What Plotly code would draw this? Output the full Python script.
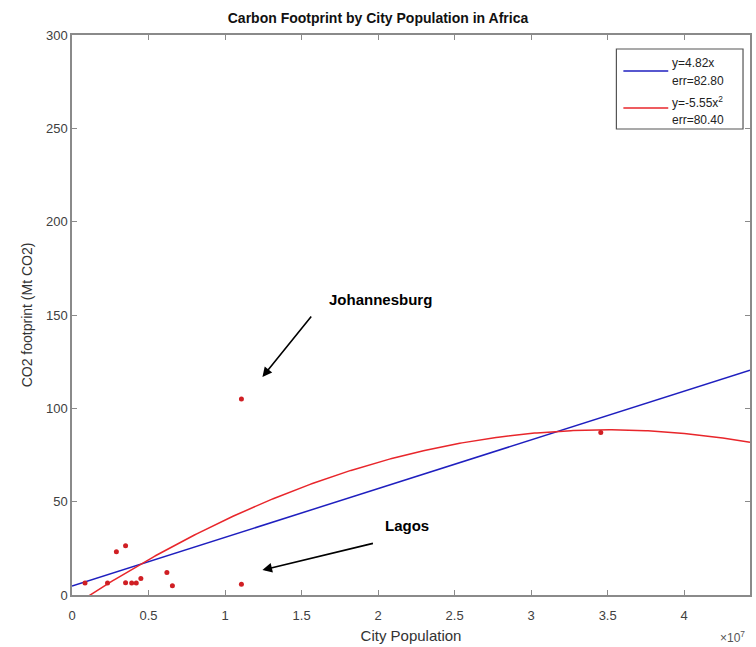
import numpy as np
import plotly.graph_objects as go

# City population and CO2 footprint (Mt CO2) for African cities
population = [0.085e7, 0.232e7, 0.29e7, 0.35e7, 0.35e7, 0.39e7, 0.42e7,
              0.45e7, 0.62e7, 0.656e7, 1.107e7, 1.107e7, 3.455e7]
footprint = [6.4, 6.4, 23.2, 26.4, 6.6, 6.4, 6.4, 8.9, 12.0, 5.0, 5.7, 105.0, 87.1]

# Fitted models (x in units of 1e7 people)
linear_coef = [4.8, 26.1]            # intercept, slope
quad_vertex = [3.5, 88.5, -7.73]     # x at peak, peak value, curvature
legend_labels = [["y=4.82x", "err=82.80"], ["y=-5.55x<sup>2</sup>", "err=80.40"]]
fit_colors = ["#1f1fbf", "#e8262b"]

x_ticks = [0, 0.5, 1, 1.5, 2, 2.5, 3, 3.5, 4]
y_ticks = [0, 50, 100, 150, 200, 250, 300]
x_max = 4.43e7

FONT = "Liberation Sans, Arial, sans-serif"

xs = np.linspace(0, x_max, 300)
u = xs / 1e7
lin = linear_coef[0] + linear_coef[1] * u
quad = quad_vertex[1] + quad_vertex[2] * (u - quad_vertex[0]) ** 2

fig = go.Figure()
fig.add_trace(go.Scatter(x=xs, y=lin, mode="lines", showlegend=False,
                         line=dict(color=fit_colors[0], width=1.5)))
fig.add_trace(go.Scatter(x=xs, y=quad, mode="lines", showlegend=False,
                         line=dict(color=fit_colors[1], width=1.5)))
fig.add_trace(go.Scatter(x=population, y=footprint, mode="markers", showlegend=False,
                         marker=dict(color="#d01f24", size=5)))

axis_color = "#8a8a8a"
tick_font = dict(family=FONT, size=13, color="#404040")

fig.update_xaxes(range=[0, x_max], tickvals=[t * 1e7 for t in x_ticks],
                 ticktext=[f"{t:g}" for t in x_ticks],
                 showgrid=False, zeroline=False, showline=True, linecolor=axis_color,
                 linewidth=1.5, mirror="ticks", ticks="inside", ticklen=5,
                 tickcolor=axis_color, tickwidth=1.2, tickfont=tick_font,
                 ticklabelstandoff=8,
                 title=dict(text="City Population", font=dict(size=15, color="#333333"),
                            standoff=8))
fig.update_yaxes(range=[0, 300], tickvals=y_ticks,
                 showgrid=False, zeroline=False, showline=True, linecolor=axis_color,
                 linewidth=1.5, mirror="ticks", ticks="inside", ticklen=5,
                 tickcolor=axis_color, tickwidth=1.2, tickfont=tick_font,
                 title=dict(text="CO2 footprint (Mt CO2)", font=dict(size=14, color="#333333"),
                            standoff=10))

# plot area: 72..752 px horizontally, 35..595 px vertically
def px(xp):
    return (xp - 72) / 680

def py(yp):
    return (595 - yp) / 560

arrow = dict(showarrow=True, arrowhead=2, arrowsize=1.2, arrowwidth=1.6,
             arrowcolor="black", xref="paper", yref="paper", axref="pixel", ayref="pixel",
             font=dict(family=FONT, size=15, color="black"))
fig.add_annotation(x=px(263), y=py(377), ax=313 - 263, ay=315 - 377, text="", **arrow)
fig.add_annotation(x=px(263), y=py(570), ax=375 - 263, ay=543 - 570, text="", **arrow)
fig.add_annotation(x=px(381), y=py(299), xref="paper", yref="paper", showarrow=False,
                   text="<b>Johannesburg</b>", font=dict(family=FONT, size=15, color="black"))
fig.add_annotation(x=px(408), y=py(536), xref="paper", yref="paper", showarrow=False,
                   text="<b>Lagos</b>", font=dict(family=FONT, size=15, color="black"))
fig.add_annotation(x=px(749), y=py(637), xref="paper", yref="paper", showarrow=False,
                   xanchor="right", yanchor="middle", text="×10<sup>7</sup>",
                   font=dict(family=FONT, size=12, color="#555555"))

# legend box with line samples and two-line labels
fig.add_shape(type="rect", xref="paper", yref="paper",
              x0=px(618), x1=px(745), y0=py(129), y1=py(49),
              line=dict(color="#555555", width=1.2), fillcolor="white", layer="above")
sample_y = [71, 108]
label_y = [[63, 81], [102, 120]]
for i in range(2):
    fig.add_shape(type="line", xref="paper", yref="paper",
                  x0=px(625), x1=px(670), y0=py(sample_y[i]), y1=py(sample_y[i]),
                  line=dict(color=fit_colors[i], width=1.5), layer="above")
    for j in range(2):
        fig.add_annotation(x=px(672), y=py(label_y[i][j]), xref="paper", yref="paper",
                           showarrow=False, xanchor="left", yanchor="middle",
                           text=legend_labels[i][j],
                           font=dict(family=FONT, size=12, color="#222222"))

fig.update_layout(
    width=756, height=647,
    margin=dict(l=72, r=4, t=35, b=52),
    paper_bgcolor="white", plot_bgcolor="white",
    showlegend=False,
    font=dict(family=FONT, color="#333333"),
    title=dict(text="<b>Carbon Footprint by City Population in Africa</b>",
               x=px(412), xanchor="center", y=1 - 18 / 647, yanchor="middle",
               font=dict(size=14, color="#111111")),
)

fig.write_html("out.html")
